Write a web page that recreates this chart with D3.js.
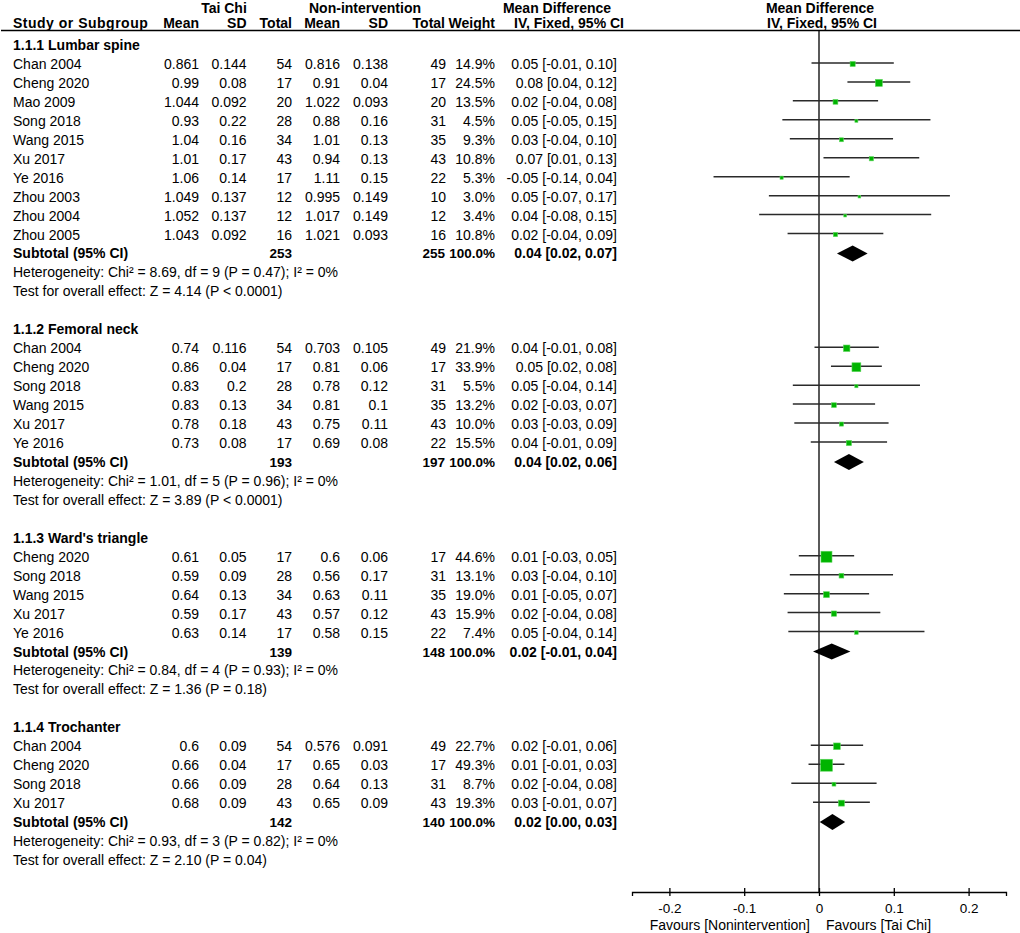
<!DOCTYPE html>
<html lang="en">
<head>
<meta charset="UTF-8">
<title>Forest plot - Tai Chi vs Non-intervention</title>
<script src="https://d3js.org/d3.v7.min.js"></script>
<style>
    body { margin: 0; padding: 0; background: #fff; }
    svg { display: block; font-family: "Liberation Sans", Arial, sans-serif; font-size: 14px; }
    .b { font-weight: bold; }
    .ci { stroke: #2a2a2a; stroke-width: 1.5px; }
    .sq { fill: #00b400; stroke: #5fd85f; stroke-width: 0.6px; }
    .dm { fill: #000; }
</style>
</head>
<body>
<div id="chart"></div>
<script>
// ---- data ----
const groupTitles = ["1.1.1 Lumbar spine", "1.1.2 Femoral neck", "1.1.3 Ward's triangle", "1.1.4 Trochanter"];

const studyGroup = [0,0,0,0,0,0,0,0,0,0, 1,1,1,1,1,1, 2,2,2,2,2, 3,3,3,3];
const studyNames = ["Chan 2004","Cheng 2020","Mao 2009","Song 2018","Wang 2015","Xu 2017","Ye 2016","Zhou 2003","Zhou 2004","Zhou 2005",
    "Chan 2004","Cheng 2020","Song 2018","Wang 2015","Xu 2017","Ye 2016",
    "Cheng 2020","Song 2018","Wang 2015","Xu 2017","Ye 2016",
    "Chan 2004","Cheng 2020","Song 2018","Xu 2017"];
const tcMean = ["0.861","0.99","1.044","0.93","1.04","1.01","1.06","1.049","1.052","1.043",
    "0.74","0.86","0.83","0.83","0.78","0.73",
    "0.61","0.59","0.64","0.59","0.63",
    "0.6","0.66","0.66","0.68"];
const tcSD = ["0.144","0.08","0.092","0.22","0.16","0.17","0.14","0.137","0.137","0.092",
    "0.116","0.04","0.2","0.13","0.18","0.08",
    "0.05","0.09","0.13","0.17","0.14",
    "0.09","0.04","0.09","0.09"];
const tcN = [54,17,20,28,34,43,17,12,12,16, 54,17,28,34,43,17, 17,28,34,43,17, 54,17,28,43];
const niMean = ["0.816","0.91","1.022","0.88","1.01","0.94","1.11","0.995","1.017","1.021",
    "0.703","0.81","0.78","0.81","0.75","0.69",
    "0.6","0.56","0.63","0.57","0.58",
    "0.576","0.65","0.64","0.65"];
const niSD = ["0.138","0.04","0.093","0.16","0.13","0.13","0.15","0.149","0.149","0.093",
    "0.105","0.06","0.12","0.1","0.11","0.08",
    "0.06","0.17","0.11","0.12","0.15",
    "0.091","0.03","0.13","0.09"];
const niN = [49,17,20,31,35,43,22,10,12,16, 49,17,31,35,43,22, 17,31,35,43,22, 49,17,31,43];
const weights = ["14.9%","24.5%","13.5%","4.5%","9.3%","10.8%","5.3%","3.0%","3.4%","10.8%",
    "21.9%","33.9%","5.5%","13.2%","10.0%","15.5%",
    "44.6%","13.1%","19.0%","15.9%","7.4%",
    "22.7%","49.3%","8.7%","19.3%"];
const ciLabels = ["0.05 [-0.01, 0.10]","0.08 [0.04, 0.12]","0.02 [-0.04, 0.08]","0.05 [-0.05, 0.15]","0.03 [-0.04, 0.10]",
    "0.07 [0.01, 0.13]","-0.05 [-0.14, 0.04]","0.05 [-0.07, 0.17]","0.04 [-0.08, 0.15]","0.02 [-0.04, 0.09]",
    "0.04 [-0.01, 0.08]","0.05 [0.02, 0.08]","0.05 [-0.04, 0.14]","0.02 [-0.03, 0.07]","0.03 [-0.03, 0.09]","0.04 [-0.01, 0.09]",
    "0.01 [-0.03, 0.05]","0.03 [-0.04, 0.10]","0.01 [-0.05, 0.07]","0.02 [-0.04, 0.08]","0.05 [-0.04, 0.14]",
    "0.02 [-0.01, 0.06]","0.01 [-0.01, 0.03]","0.02 [-0.04, 0.08]","0.03 [-0.01, 0.07]"];
// plotted effect and interval (estimated from the marks)
const mdPoint = [0.045,0.08,0.022,0.05,0.03,0.07,-0.05,0.054,0.035,0.022,
    0.037,0.05,0.05,0.02,0.03,0.04,
    0.01,0.03,0.01,0.02,0.05,
    0.024,0.01,0.02,0.03];
const mdLow = [-0.01,0.038,-0.035,-0.049,-0.039,0.006,-0.141,-0.067,-0.08,-0.042,
    -0.006,0.016,-0.035,-0.035,-0.033,-0.011,
    -0.027,-0.039,-0.047,-0.042,-0.041,
    -0.011,-0.014,-0.037,-0.008];
const mdHigh = [0.10,0.122,0.079,0.149,0.099,0.134,0.041,0.175,0.15,0.086,
    0.08,0.084,0.135,0.075,0.093,0.091,
    0.047,0.099,0.067,0.082,0.141,
    0.059,0.034,0.077,0.068];

const subTcN = [253, 193, 139, 142];
const subNiN = [255, 197, 148, 140];
const subCiLabels = ["0.04 [0.02, 0.07]", "0.04 [0.02, 0.06]", "0.02 [-0.01, 0.04]", "0.02 [0.00, 0.03]"];
const subMd = [0.045, 0.040, 0.017, 0.018];
const subLow = [0.024, 0.020, -0.008, 0.001];
const subHigh = [0.065, 0.060, 0.042, 0.035];
const heteroText = ["Heterogeneity: Chi² = 8.69, df = 9 (P = 0.47); I² = 0%",
    "Heterogeneity: Chi² = 1.01, df = 5 (P = 0.96); I² = 0%",
    "Heterogeneity: Chi² = 0.84, df = 4 (P = 0.93); I² = 0%",
    "Heterogeneity: Chi² = 0.93, df = 3 (P = 0.82); I² = 0%"];
const effectText = ["Test for overall effect: Z = 4.14 (P < 0.0001)",
    "Test for overall effect: Z = 3.89 (P < 0.0001)",
    "Test for overall effect: Z = 1.36 (P = 0.18)",
    "Test for overall effect: Z = 2.10 (P = 0.04)"];

const axisTicks = [-0.2, -0.1, 0, 0.1, 0.2];
const favoursLeft = "Favours [Nonintervention]";
const favoursRight = "Favours [Tai Chi]";

// ---- layout ----
const width = 1020, height = 933;
const svg = d3.select("#chart").append("svg").attr("width", width).attr("height", height);

// build row list
const rows = [];
groupTitles.forEach((title, g) => {
    rows.push({ type: "group", g });
    studyGroup.forEach((sg, i) => { if (sg === g) rows.push({ type: "study", i }); });
    rows.push({ type: "sub", g });
    rows.push({ type: "het", g });
    rows.push({ type: "eff", g });
    if (g < groupTitles.length - 1) rows.push({ type: "blank" });
});

const y = d3.scaleLinear().domain([0, rows.length - 1]).range([45, 860]);
const x = d3.scaleLinear().domain([-0.25, 0.25]).range([632, 1006]);
const axisY = 892;

// column right edges
const col = { name: 13, m1: 199, s1: 246.5, n1: 292, m2: 340, s2: 388, n2: 446, w: 495, ci: 617 };

function txt(xp, yp, s, anchor, bold, size) {
    const t = svg.append("text").attr("x", xp).attr("y", yp)
        .attr("text-anchor", anchor || "start")
        .attr("class", bold ? "b" : null)
        .text(s);
    if (size) t.style("font-size", size + "px");
    return t;
}

// header
txt(224, 13, "Tai Chi", "middle", true);
txt(365, 13, "Non-intervention", "middle", true);
txt(557, 13, "Mean Difference", "middle", true);
txt(x(0) + 1, 13, "Mean Difference", "middle", true);
txt(col.name, 28, "Study or Subgroup", "start", true).style("letter-spacing", "0.5px");
txt(col.m1, 28, "Mean", "end", true);
txt(col.s1, 28, "SD", "end", true);
txt(col.n1, 28, "Total", "end", true);
txt(col.m2, 28, "Mean", "end", true);
txt(col.s2, 28, "SD", "end", true);
txt(col.n2 - 1, 28, "Total", "end", true);
txt(col.w, 28, "Weight", "end", true);
txt(514, 28, "IV, Fixed, 95% CI", "start", true);
txt(x(0) + 3, 28, "IV, Fixed, 95% CI", "middle", true);

svg.append("line").attr("x1", 1).attr("x2", width).attr("y1", 30.5).attr("y2", 30.5)
    .attr("stroke", "#000").attr("stroke-width", 1.3);

// zero line
svg.append("line").attr("x1", x(0)).attr("x2", x(0)).attr("y1", 30.5).attr("y2", axisY)
    .attr("stroke", "#000").attr("stroke-width", 1.3);

const sqSize = w => 2.1 + 0.2 * w;

rows.forEach((r, k) => {
    const yc = y(k), yb = yc + 5;
    if (r.type === "group") {
        txt(col.name, yb, groupTitles[r.g], "start", true);
    } else if (r.type === "study") {
        const i = r.i;
        txt(col.name, yb, studyNames[i]);
        txt(col.m1, yb, tcMean[i], "end");
        txt(col.s1, yb, tcSD[i], "end");
        txt(col.n1, yb, tcN[i], "end");
        txt(col.m2, yb, niMean[i], "end");
        txt(col.s2, yb, niSD[i], "end");
        txt(col.n2, yb, niN[i], "end");
        txt(col.w, yb, weights[i], "end");
        txt(col.ci, yb, ciLabels[i], "end");
        svg.append("line").attr("class", "ci")
            .attr("x1", x(mdLow[i])).attr("x2", x(mdHigh[i]))
            .attr("y1", yc - 1).attr("y2", yc - 1);
        const s = sqSize(parseFloat(weights[i]));
        svg.append("rect").attr("class", "sq")
            .attr("x", x(mdPoint[i]) - s / 2).attr("y", yc - s / 2)
            .attr("width", s).attr("height", s);
    } else if (r.type === "sub") {
        const g = r.g;
        txt(col.name, yb, "Subtotal (95% CI)", "start", true);
        txt(col.n1, yb, subTcN[g], "end", true, 13.5);
        txt(col.n2 - 1, yb, subNiN[g], "end", true, 13.5);
        txt(col.w, yb, "100.0%", "end", true, 13.5);
        txt(col.ci, yb, subCiLabels[g], "end", true);
        const h = 8;
        svg.append("path").attr("class", "dm")
            .attr("d", `M${x(subLow[g])},${yc} L${x(subMd[g])},${yc - h} L${x(subHigh[g])},${yc} L${x(subMd[g])},${yc + h} Z`);
    } else if (r.type === "het") {
        txt(col.name, yb, heteroText[r.g]);
    } else if (r.type === "eff") {
        txt(col.name, yb, effectText[r.g]);
    }
});

// axis
const fmt = v => (v === 0 ? "0" : (v < 0 ? "-" : "") + Math.abs(v).toFixed(1));
const axis = d3.axisBottom(x).tickValues(axisTicks).tickFormat(fmt).tickSizeOuter(0).tickSize(4);
const ax = svg.append("g").attr("transform", `translate(0,${axisY})`).call(axis);
ax.select(".domain").attr("stroke", "#000").attr("stroke-width", 1.3);
ax.selectAll(".tick line").attr("y1", -4).attr("y2", 4).attr("stroke", "#000").attr("stroke-width", 1.3);
ax.selectAll(".tick text").attr("y", 20.5).attr("dy", null)
    .style("font-size", "13.5px").style("font-family", "'Liberation Sans', Arial, sans-serif").attr("fill", "#000");

txt(x(0) - 9, 929.5, favoursLeft, "end", false, 14);
txt(x(0) + 7, 929.5, favoursRight, "start", false, 14);
</script>
</body>
</html>
